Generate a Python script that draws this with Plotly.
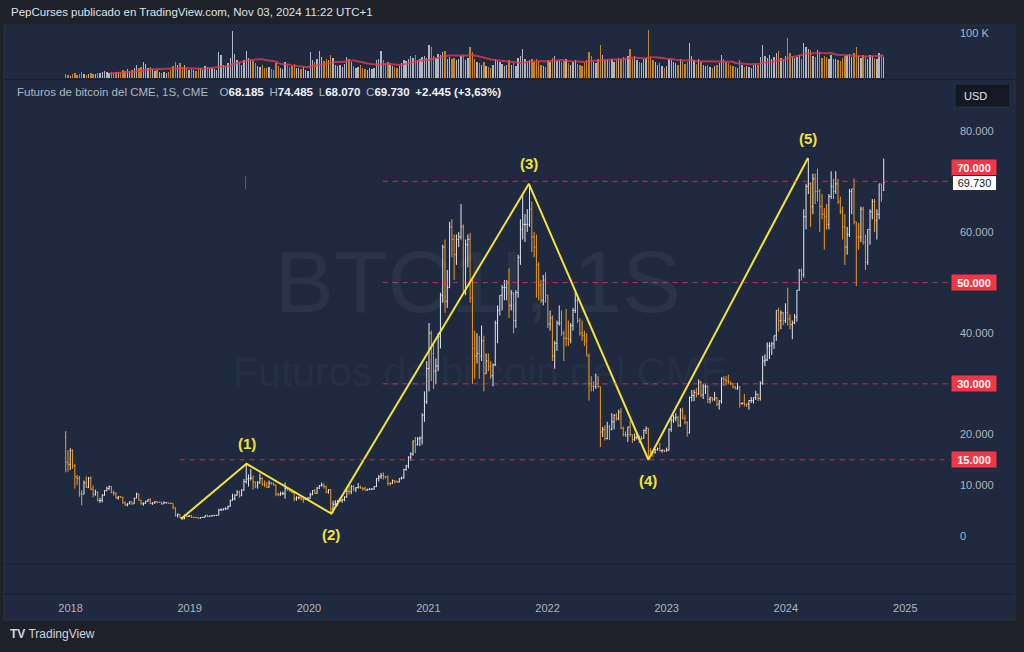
import pandas as pd
import numpy as np
import plotly.graph_objects as go

# ---------------- DATA (weekly CME bitcoin futures, prices in thousands USD) ----------------
first_week = "2017-12-17"
first_open_k = 19.5
last_open_k = 68.185

close_k = [
    # 2017
    14.5, 14.1, 16.8,
    # 2018
    13.8, 11.6, 11.3, 8.3, 8.2, 10.4, 9.6, 11.4, 9.2, 8.2, 8.6, 6.9,
    7.0, 8.0, 8.9, 9.3, 9.7, 8.5, 8.3, 7.5, 7.7, 7.6, 6.5, 6.1, 6.3,
    6.7, 6.3, 7.4, 8.2, 7.0, 6.3, 6.4, 6.8, 7.1, 6.4, 6.5, 6.7, 6.6, 6.6,
    6.3, 6.5, 6.5, 6.4, 6.35, 5.6, 4.0, 4.2, 3.6, 3.3, 3.95, 3.8, 3.9,
    # 2019
    3.6, 3.6, 3.55, 3.45, 3.6, 3.65, 3.95, 3.8, 3.9, 3.95, 4.0, 4.05, 5.1,
    5.1, 5.3, 5.3, 5.8, 7.0, 7.3, 8.0, 8.6, 7.9, 9.0, 10.7, 11.2, 11.3,
    11.4, 10.6, 9.8, 10.4, 11.3, 10.2, 10.1, 9.6, 10.4, 10.3, 10.0, 8.2, 8.1,
    8.3, 8.3, 9.3, 9.2, 8.8, 8.5, 7.3, 7.5, 7.5, 7.2, 7.2, 7.4, 7.4,
    # 2020
    8.1, 8.9, 8.4, 9.4, 9.9, 10.0, 9.7, 8.6, 9.1, 5.3, 6.2, 6.4, 6.9,
    6.9, 7.1, 7.6, 8.8, 8.7, 9.7, 9.2, 9.5, 9.6, 9.4, 9.3, 9.0, 9.1,
    9.2, 9.2, 9.7, 11.3, 11.6, 11.9, 11.7, 11.6, 10.3, 10.3, 10.9, 10.7, 10.6,
    11.3, 11.4, 13.1, 13.8, 15.5, 16.1, 18.7, 18.0, 19.1, 19.3, 23.8, 26.5, 33.0,
    # 2021
    40.0, 36.0, 32.5, 33.5, 39.3, 47.5, 57.0, 46.3, 49.0, 61.0, 58.5, 55.5, 58.5,
    59.0, 61.0, 50.0, 57.5, 58.5, 47.0, 37.0, 35.5, 36.0, 35.5, 38.5, 32.0, 34.5,
    33.5, 31.6, 33.8, 42.0, 44.5, 47.5, 49.0, 49.0, 50.0, 45.5, 48.0, 42.5, 48.0,
    55.0, 60.5, 61.5, 61.5, 61.5, 64.5, 59.0, 57.0, 53.5, 49.5, 46.5, 50.5, 47.5,
    # 2022
    41.8, 43.0, 35.5, 38.0, 42.0, 42.0, 40.0, 39.0, 39.0, 38.8, 41.5, 44.5, 46.5,
    42.5, 40.0, 39.5, 38.5, 35.5, 30.0, 29.5, 29.5, 30.0, 29.5, 20.5, 21.0, 19.2,
    21.5, 21.0, 22.5, 23.8, 23.2, 24.4, 21.2, 20.0, 19.9, 21.5, 20.0, 19.0, 19.4,
    19.5, 19.2, 19.2, 20.8, 21.2, 16.8, 16.6, 16.5, 17.0, 17.2, 16.8, 16.9, 16.7,
    # 2023
    16.9, 21.0, 22.8, 23.2, 23.4, 21.8, 24.7, 23.2, 22.4, 20.3, 27.3, 27.7, 28.3,
    28.0, 30.3, 27.8, 29.4, 29.5, 26.9, 27.2, 26.9, 27.2, 26.0, 26.6, 31.0, 30.8,
    30.6, 30.4, 30.0, 29.4, 29.1, 29.4, 26.1, 26.2, 26.0, 26.0, 26.7, 26.7, 27.3,
    27.9, 27.1, 30.1, 34.5, 34.7, 37.5, 37.5, 37.9, 39.5, 44.5, 42.5, 44.0, 42.5, 44.1,
    # 2024
    42.8, 41.7, 42.0, 43.2, 48.5, 52.3, 51.6, 63.0, 69.0, 69.5, 65.0, 70.5, 68.0,
    68.0, 65.0, 63.5, 63.0, 61.5, 67.0, 69.0, 68.0, 69.5, 66.0, 64.0, 61.0, 57.0,
    59.5, 68.0, 68.5, 62.0, 59.0, 59.0, 64.5, 58.0, 54.0, 60.5, 64.0, 66.0, 62.3,
    63.5, 69.5, 67.285, 69.73,
]

high_k = [
    # 2017
    20.65, 16.9, 17.3,
    # 2018
    17.1, 14.2, 12.0, 11.8, 9.0, 10.9, 11.7, 11.6, 11.7, 9.9, 9.1, 8.7,
    7.5, 8.2, 9.0, 9.7, 9.9, 9.8, 8.9, 8.6, 7.8, 7.8, 7.7, 6.8, 6.4,
    6.8, 6.7, 7.5, 8.5, 8.3, 7.1, 6.6, 6.9, 7.2, 7.4, 6.6, 6.8, 6.8, 6.7,
    6.7, 6.8, 6.6, 6.5, 6.6, 6.4, 5.6, 4.4, 4.3, 3.6, 4.2, 4.2, 4.1,
    # 2019
    4.1, 3.8, 3.7, 3.6, 3.7, 3.7, 4.0, 4.2, 3.95, 4.0, 4.05, 4.1, 5.3,
    5.4, 5.4, 5.6, 5.9, 7.1, 8.3, 8.2, 9.0, 8.9, 9.2, 11.2, 14.2, 12.1,
    13.2, 11.9, 10.7, 10.8, 12.3, 11.5, 10.9, 10.6, 10.9, 10.6, 10.5, 10.1, 8.5,
    8.7, 8.7, 10.5, 9.6, 9.4, 9.1, 8.6, 7.8, 7.8, 7.7, 7.5, 7.6, 7.6,
    # 2020
    8.5, 9.0, 9.2, 9.6, 10.0, 10.5, 10.3, 9.9, 9.2, 9.2, 6.9, 7.0, 7.0,
    7.5, 7.3, 7.8, 9.4, 10.0, 10.0, 10.0, 9.6, 10.4, 9.9, 9.6, 9.7, 9.3,
    9.4, 9.4, 9.8, 11.4, 12.0, 12.4, 12.5, 11.8, 11.9, 10.6, 11.1, 10.9, 10.9,
    11.4, 11.7, 13.2, 14.0, 15.7, 16.5, 18.8, 19.5, 19.5, 19.6, 24.2, 28.5, 34.5,
    # 2021
    42.0, 40.5, 38.0, 35.0, 40.0, 48.0, 57.5, 58.5, 52.5, 62.0, 62.5, 59.5, 59.5,
    60.0, 65.5, 61.5, 58.5, 59.5, 59.8, 50.5, 40.5, 40.0, 39.5, 41.5, 39.5, 36.0,
    36.0, 34.5, 34.0, 42.5, 45.5, 47.5, 49.5, 50.5, 50.5, 52.8, 48.5, 48.0, 48.5,
    55.5, 62.5, 67.5, 63.5, 64.5, 69.3, 66.0, 60.0, 59.5, 54.0, 50.5, 51.5, 52.0,
    # 2022
    47.5, 44.5, 43.5, 38.5, 42.5, 45.5, 44.5, 40.5, 44.8, 42.5, 42.0, 45.0, 48.3,
    47.5, 43.0, 42.5, 40.5, 40.0, 36.0, 31.5, 30.5, 32.0, 31.5, 29.5, 21.5, 21.8,
    22.5, 21.9, 24.2, 24.0, 24.2, 24.9, 25.2, 21.6, 20.6, 21.5, 22.8, 20.0, 20.2,
    20.5, 19.8, 19.7, 21.0, 21.6, 21.3, 17.3, 16.8, 17.2, 17.4, 18.3, 17.0, 17.0,
    # 2023
    17.4, 21.2, 23.2, 23.8, 24.2, 23.6, 25.2, 25.3, 23.8, 22.6, 27.5, 28.8, 28.8,
    29.2, 30.9, 30.6, 30.0, 29.9, 29.7, 27.5, 27.4, 28.4, 27.4, 26.8, 31.3, 31.5,
    31.5, 31.8, 30.4, 30.2, 29.6, 30.2, 29.5, 26.3, 28.0, 26.1, 26.8, 27.4, 27.3,
    28.6, 28.1, 30.5, 35.5, 35.8, 38.2, 38.2, 38.3, 39.5, 44.5, 45.0, 44.5, 44.2, 45.9,
    # 2024
    49.0, 43.7, 42.5, 43.8, 48.5, 52.7, 52.8, 64.5, 69.5, 74.6, 69.8, 71.5, 71.5,
    72.5, 68.5, 67.5, 64.7, 65.5, 67.5, 72.0, 70.5, 72.0, 70.5, 67.0, 65.0, 63.5,
    61.0, 68.5, 68.5, 70.5, 62.0, 61.8, 65.0, 65.0, 59.5, 60.5, 64.5, 66.5, 66.5,
    64.5, 69.5, 69.5, 74.485,
]

low_k = [
    # 2017
    12.5, 12.6, 13.0,
    # 2018
    13.2, 9.3, 10.0, 7.7, 6.0, 8.2, 9.4, 9.4, 9.0, 7.6, 7.9, 6.8,
    6.5, 6.6, 7.9, 8.8, 9.0, 8.4, 7.9, 7.3, 7.1, 7.5, 6.3, 5.9, 5.8,
    6.2, 6.1, 6.3, 7.4, 6.9, 6.1, 5.9, 6.3, 6.7, 6.2, 6.1, 6.3, 6.4, 6.5,
    6.1, 6.3, 6.4, 6.3, 6.3, 5.2, 3.8, 3.6, 3.5, 3.2, 3.3, 3.6, 3.7,
    # 2019
    3.5, 3.5, 3.5, 3.4, 3.4, 3.55, 3.6, 3.7, 3.7, 3.8, 3.9, 3.9, 4.05,
    4.9, 5.0, 5.1, 5.2, 5.7, 6.9, 7.0, 7.9, 7.5, 7.8, 8.9, 10.3, 9.7,
    10.9, 9.1, 9.4, 9.3, 10.3, 9.8, 9.6, 9.4, 9.5, 10.1, 9.9, 7.8, 7.8,
    7.9, 8.0, 7.3, 8.9, 8.7, 8.4, 6.8, 6.9, 7.2, 7.0, 6.5, 7.1, 7.1,
    # 2020
    7.3, 8.0, 8.2, 8.3, 9.2, 9.7, 9.3, 8.4, 8.3, 4.3, 4.5, 5.8, 5.9,
    6.7, 6.5, 6.8, 7.5, 8.1, 8.2, 8.8, 8.6, 9.3, 9.3, 8.9, 8.9, 8.9,
    9.0, 9.1, 9.1, 9.6, 10.7, 11.2, 11.1, 11.3, 9.9, 9.9, 10.2, 10.3, 10.5,
    10.5, 11.1, 11.3, 12.8, 13.3, 14.8, 15.8, 16.3, 17.8, 17.7, 18.0, 22.5, 26.0,
    # 2021
    28.5, 30.5, 29.0, 30.0, 32.5, 37.0, 46.0, 44.0, 45.0, 49.0, 55.0, 50.5, 53.5,
    57.0, 58.5, 48.0, 47.5, 53.0, 46.0, 30.0, 31.0, 34.0, 31.0, 34.5, 28.5, 32.0,
    32.5, 31.0, 29.5, 33.5, 38.0, 43.5, 44.5, 46.5, 46.5, 43.0, 44.5, 40.0, 41.0,
    47.0, 53.5, 58.5, 58.0, 60.0, 61.0, 56.0, 55.0, 47.0, 46.5, 46.0, 45.5, 46.0,
    # 2022
    41.0, 40.5, 34.5, 33.0, 36.5, 41.5, 39.5, 34.5, 37.5, 37.5, 38.0, 40.5, 44.0,
    42.0, 39.5, 38.5, 37.5, 35.5, 26.7, 28.5, 28.5, 29.0, 29.2, 17.5, 19.5, 18.8,
    19.0, 18.9, 20.8, 21.0, 22.7, 22.8, 21.1, 19.6, 19.5, 18.5, 19.6, 18.3, 18.7,
    19.0, 18.3, 18.9, 19.2, 20.1, 15.2, 16.0, 15.6, 16.2, 16.8, 16.6, 16.4, 16.5,
    # 2023
    16.6, 16.8, 20.5, 22.3, 22.6, 21.5, 21.5, 23.0, 22.0, 19.6, 20.2, 26.5, 26.6,
    27.3, 27.8, 27.3, 27.0, 28.0, 26.2, 26.1, 26.5, 26.6, 25.6, 24.9, 26.1, 29.6,
    29.7, 29.9, 29.7, 29.1, 28.9, 28.8, 25.3, 25.9, 25.5, 25.4, 24.9, 26.2, 26.1,
    26.8, 26.6, 26.7, 29.8, 33.5, 34.5, 34.9, 35.7, 36.9, 38.5, 40.3, 40.8, 41.6, 42.0,
    # 2024
    41.5, 40.8, 38.8, 41.8, 42.3, 48.4, 50.4, 51.0, 60.5, 67.5, 61.0, 63.5, 65.5,
    66.0, 60.0, 62.5, 56.5, 60.5, 60.5, 66.5, 66.5, 67.5, 65.5, 63.5, 58.5, 53.5,
    55.5, 59.0, 63.5, 61.5, 49.3, 56.5, 58.0, 57.5, 52.5, 53.5, 57.5, 62.5, 60.0,
    58.5, 62.5, 66.0, 68.07,
]

volume_k = [
    # 2017
    9, 7, 6,
    # 2018
    10, 12, 8, 9, 14, 10, 8, 9, 11, 10, 9, 12, 11, 14, 16, 13, 12,
    15, 12, 14, 13, 12, 18, 16, 20, 14, 18, 24, 30, 22, 26, 37, 32, 22,
    26, 20, 16, 18, 14, 12, 15, 11, 13, 18, 28, 36, 30, 34, 26, 30, 24, 18,
    # 2019
    20, 18, 16, 22, 24, 18, 28, 26, 22, 24, 20, 18, 59, 52, 30, 28, 34,
    45, 104, 55, 40, 36, 30, 41, 60, 46, 40, 38, 33, 28, 26, 30, 24, 22,
    26, 20, 18, 34, 28, 22, 20, 36, 30, 26, 28, 32, 24, 22, 20, 26, 18, 16,
    # 2020
    59, 40, 36, 42, 60, 48, 38, 44, 40, 52, 46, 30, 28, 30, 26, 32, 48,
    42, 36, 28, 22, 26, 30, 24, 20, 18, 22, 20, 24, 40, 44, 61, 40, 34, 36,
    30, 28, 26, 24, 28, 34, 40, 38, 44, 50, 46, 52, 40, 44, 48, 50, 45,
    # 2021
    74, 70, 50, 46, 55, 52, 59, 60, 44, 48, 42, 46, 40, 44, 50, 52, 40,
    45, 70, 58, 44, 36, 34, 30, 36, 28, 26, 24, 30, 44, 38, 36, 32, 28, 30,
    40, 30, 34, 28, 45, 50, 65, 44, 38, 40, 44, 36, 42, 38, 30, 28, 26,
    # 2022
    40, 36, 46, 50, 38, 40, 36, 38, 44, 34, 30, 36, 40, 32, 30, 28, 34,
    40, 59, 50, 36, 34, 44, 73, 52, 40, 44, 38, 42, 36, 40, 46, 44, 48, 42,
    50, 66, 44, 50, 40, 36, 34, 44, 46, 107, 48, 40, 36, 30, 34, 28, 22,
    # 2023
    28, 42, 40, 36, 34, 30, 44, 38, 32, 36, 78, 50, 40, 32, 44, 36, 30, 28,
    30, 26, 24, 28, 30, 34, 52, 44, 36, 34, 30, 28, 26, 24, 40, 30, 26,
    28, 26, 24, 30, 32, 30, 48, 74, 50, 46, 52, 44, 48, 56, 60, 46, 40, 50,
    # 2024
    89, 56, 50, 46, 48, 52, 44, 78, 70, 66, 62, 50, 48, 63, 58, 46, 50,
    48, 44, 52, 42, 44, 40, 38, 46, 50, 52, 54, 48, 56, 70, 50, 46, 52,
    48, 44, 52, 50, 46, 44, 56, 54, 48,
]

price_levels = [70000, 50000, 30000, 15000]
level_starts = ["2020-08-14", "2020-08-14", "2020-08-14", "2018-12-01"]

wave_dates = ["2018-12-05", "2019-06-24", "2020-03-10", "2021-11-05", "2022-11-06", "2024-03-09"]
wave_prices = [3300, 14200, 4350, 69500, 15000, 74600]
wave_labels = ["", "(1)", "(2)", "(3)", "(4)", "(5)"]

year_ticks = [2018, 2019, 2020, 2021, 2022, 2023, 2024, 2025]
price_ticks = [0, 10000, 20000, 40000, 60000, 80000]

# ---------------- derived ----------------
n = len(close_k)
dates = pd.date_range(first_week, periods=n, freq="7D")
open_k = [first_open_k] + close_k[:-1]
open_k[-1] = last_open_k
o = np.array(open_k) * 1000
c = np.array(close_k) * 1000
h = np.maximum.reduce([np.array(high_k) * 1000, o, c])
l = np.minimum.reduce([np.array(low_k) * 1000, o, c])
vol = np.array(volume_k, dtype=float)
vol_ma = pd.Series(vol).rolling(20).mean()
up = c >= o

# ---------------- styling helpers ----------------
W, H = 1024, 652
ML, MR, MT, MB = 4, 74, 25, 58
PW, PH = W - ML - MR, H - MT - MB


def px_x(px):
    return (px - ML) / PW


def px_y(py):
    return (H - MB - py) / PH


OUTER = "#1e2129"
PANEL = "#1f2a40"
TXT = "#b2b5be"
UPC = "#e3e6ee"
DNC = "#f3981f"
RED = "#f23645"
YEL = "#f2e23a"
FONT = "Liberation Sans, Arial, sans-serif"

fig = go.Figure()

# volume
fig.add_trace(go.Bar(
    x=dates, y=vol, yaxis="y2",
    marker=dict(color=[("rgba(215,218,226,0.80)" if u else "rgba(243,152,31,0.80)") for u in up],
                line=dict(width=0)),
    width=7 * 86400000 * 0.6, hoverinfo="skip", showlegend=False,
))
fig.add_trace(go.Scatter(
    x=dates, y=vol_ma, yaxis="y2", mode="lines",
    line=dict(color="rgba(232,58,80,0.75)", width=2), hoverinfo="skip", showlegend=False,
))

# price bars
fig.add_trace(go.Ohlc(
    x=dates, open=o, high=h, low=l, close=c,
    increasing=dict(line=dict(color=UPC, width=1)),
    decreasing=dict(line=dict(color=DNC, width=1)),
    tickwidth=0.4, hoverinfo="skip", showlegend=False,
))

# elliott wave
fig.add_trace(go.Scatter(
    x=wave_dates, y=wave_prices, mode="lines",
    line=dict(color=YEL, width=2), hoverinfo="skip", showlegend=False,
))

shapes = []
# panel background
shapes.append(dict(type="rect", xref="paper", yref="paper",
                   x0=px_x(4), x1=px_x(1015), y0=px_y(620), y1=px_y(25),
                   fillcolor=PANEL, line=dict(color="#2a3142", width=1), layer="below"))
# pane separators
for sy, a in [(79.5, 0.45), (564, 0.25), (594, 0.45)]:
    shapes.append(dict(type="line", xref="paper", yref="paper",
                       x0=px_x(4), x1=px_x(1015), y0=px_y(sy), y1=px_y(sy),
                       line=dict(color=f"rgba(10,14,24,{a})", width=1), layer="below"))
# horizontal level lines
for lv, st in zip(price_levels, level_starts):
    shapes.append(dict(type="line", xref="x", yref="y", x0=st, x1="2025-05-18", y0=lv, y1=lv,
                       line=dict(color="rgba(242,54,69,0.75)", width=1, dash="5px,5px")))
# small blue drawing mark
shapes.append(dict(type="line", xref="x", yref="y", x0="2019-06-21", x1="2019-06-21",
                   y0=68400, y1=71000, line=dict(color="#2962ff", width=1)))
# USD box
shapes.append(dict(type="rect", xref="paper", yref="paper",
                   x0=px_x(955), x1=px_x(1010), y0=px_y(107), y1=px_y(84),
                   fillcolor="#141823", line=dict(color="#2a2e39", width=1)))

ann = []
# watermark
ann.append(dict(xref="paper", yref="paper", x=px_x(478), y=px_y(281), text="BTC1!, 1S",
                showarrow=False, font=dict(family=FONT, size=88, color="rgba(255,255,255,0.05)"),
                xanchor="center", yanchor="middle"))
ann.append(dict(xref="paper", yref="paper", x=px_x(480), y=px_y(372), text="Futuros de bitcoin del CME",
                showarrow=False, font=dict(family=FONT, size=41, color="rgba(255,255,255,0.05)"),
                xanchor="center", yanchor="middle"))
# header
ann.append(dict(xref="paper", yref="paper", x=px_x(9), y=px_y(12),
                text="PepCurses publicado en TradingView.com, Nov 03, 2024 11:22 UTC+1",
                showarrow=False, font=dict(family=FONT, size=11.5, color="#dfe1e8"),
                xanchor="left", yanchor="middle"))


def fk(v):
    return f"{v / 1000:.3f}"


prev_close = c[-2]
chg = c[-1] - prev_close
pct = chg / prev_close * 100
W_ = "#f0f2f7"
sp = "\u2002"
pct_txt = f"{pct:.2f}".replace(".", ",")
legend_txt = (f"<span style='color:{TXT}'>Futuros de bitcoin del CME, 1S, CME</span>{sp}{sp}"
              f"<span style='color:{TXT}'>O</span><b style='color:{W_}'>{fk(o[-1])}</b>{sp}"
              f"<span style='color:{TXT}'>H</span><b style='color:{W_}'>{fk(h[-1])}</b>{sp}"
              f"<span style='color:{TXT}'>L</span><b style='color:{W_}'>{fk(l[-1])}</b>{sp}"
              f"<span style='color:{TXT}'>C</span><b style='color:{W_}'>{fk(c[-1])}</b>{sp}"
              f"<b style='color:{W_}'>+{chg / 1000:.3f} (+{pct_txt}%)</b>")
ann.append(dict(xref="paper", yref="paper", x=px_x(15), y=px_y(92), text=legend_txt,
                showarrow=False, font=dict(family=FONT, size=11.5, color=TXT),
                xanchor="left", yanchor="middle"))
# USD text
ann.append(dict(xref="paper", yref="paper", x=px_x(962), y=px_y(95.5), text="USD",
                showarrow=False, font=dict(family=FONT, size=11, color="#e0e3eb"),
                xanchor="left", yanchor="middle"))
# TradingView logo
ann.append(dict(xref="paper", yref="paper", x=px_x(8), y=px_y(634),
                text="<b>TV</b> TradingView", showarrow=False,
                font=dict(family=FONT, size=12, color="#d1d4dc"), xanchor="left", yanchor="middle"))

# level labels
for lv in price_levels:
    ann.append(dict(xref="paper", yref="y", x=px_x(974.5), y=lv, text=f"<b>{fk(lv)}</b>",
                    showarrow=False, bgcolor=RED, width=42, height=13, borderpad=1,
                    font=dict(family=FONT, size=11, color="white"),
                    xanchor="center", yanchor="middle", yshift=14 if lv == 70000 else 0))
# current price label
ann.append(dict(xref="paper", yref="y", x=px_x(974.5), y=c[-1], text=fk(c[-1]),
                showarrow=False, bgcolor="white", bordercolor="#2a2e39", borderwidth=1,
                width=41, height=12, borderpad=1,
                font=dict(family=FONT, size=11, color="#131722"),
                xanchor="center", yanchor="middle"))

# wave labels
for d, p, t, i in zip(wave_dates, wave_prices, wave_labels, range(len(wave_labels))):
    if not t:
        continue
    ann.append(dict(xref="x", yref="y", x=d, y=p, text=f"<b>{t}</b>", showarrow=False,
                    font=dict(family=FONT, size=15, color=YEL),
                    xanchor="center", yanchor="middle", yshift=20 if i % 2 == 1 else -21))

fig.update_layout(
    width=W, height=H, autosize=False,
    margin=dict(l=ML, r=MR, t=MT, b=MB, pad=0),
    paper_bgcolor=OUTER, plot_bgcolor="rgba(0,0,0,0)",
    font=dict(family=FONT, color=TXT),
    showlegend=False, bargap=0, hovermode=False,
    shapes=shapes, annotations=ann,
    xaxis=dict(type="date", range=["2017-06-11", "2025-05-18"],
               tickvals=[f"{y}-01-01" for y in year_ticks], ticktext=[str(y) for y in year_ticks],
               tickfont=dict(size=11, color=TXT, family=FONT), showgrid=False, zeroline=False,
               showline=False, ticks="", rangeslider=dict(visible=False), ticklabelstandoff=6,
               anchor="y"),
    yaxis=dict(domain=[0, px_y(80)], range=[-11516, 90015], side="right",
               tickvals=price_ticks, ticktext=[("0" if v == 0 else fk(v)) for v in price_ticks],
               tickfont=dict(size=11, color=TXT, family=FONT), showgrid=False, zeroline=False,
               showline=False, ticks="", ticklabelstandoff=9),
    yaxis2=dict(domain=[px_y(79), 1], range=[-1.5, 118.4], side="right", anchor="x",
                tickvals=[100], ticktext=["100 K"],
                tickfont=dict(size=11, color=TXT, family=FONT), showgrid=False, zeroline=False,
                showline=False, ticks="", ticklabelstandoff=9),
)

fig.write_html("out.html")
